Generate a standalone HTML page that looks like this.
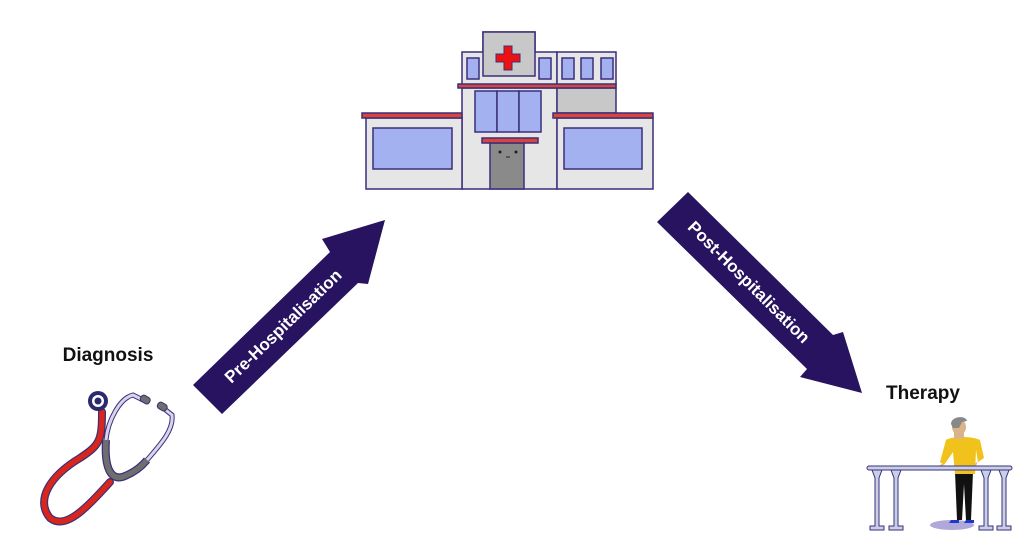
<!DOCTYPE html>
<html><head><meta charset="utf-8"><style>
html,body{margin:0;padding:0;background:#fff;}
svg{display:block}
text{font-family:"Liberation Sans",sans-serif;font-weight:bold}
</style></head><body>
<svg width="1024" height="553" viewBox="0 0 1024 553" xmlns="http://www.w3.org/2000/svg">
<g stroke="#3b2f7a" stroke-width="1.5">
<!-- hospital -->
<rect x="483" y="32" width="52" height="44" fill="#c8c8c8"/>
<rect x="462" y="52" width="95" height="33" fill="#e6e6e6"/>
<rect x="483" y="32" width="52" height="44" fill="#c8c8c8"/>
<rect x="557" y="52" width="59" height="33" fill="#e6e6e6"/>
<rect x="467" y="58" width="12" height="21" fill="#a3b1f0"/>
<rect x="539" y="58" width="12" height="21" fill="#a3b1f0"/>
<rect x="562" y="58" width="12" height="21" fill="#a3b1f0"/>
<rect x="581" y="58" width="12" height="21" fill="#a3b1f0"/>
<rect x="601" y="58" width="12" height="21" fill="#a3b1f0"/>
<path d="M504,46h8v8h8v8h-8v8h-8v-8h-8v-8h8z" fill="#ee1111" stroke-width="1"/>
<rect x="462" y="88" width="95" height="101" fill="#e6e6e6"/>
<rect x="557" y="88" width="59" height="25" fill="#c8c8c8"/>
<rect x="458" y="84" width="158" height="4" fill="#d9453a"/>
<rect x="366" y="118" width="96" height="71" fill="#e6e6e6"/>
<rect x="362" y="113" width="100" height="5" fill="#d9453a"/>
<rect x="373" y="128" width="79" height="41" fill="#a3b1f0"/>
<rect x="557" y="118" width="96" height="71" fill="#e6e6e6"/>
<rect x="553" y="113" width="100" height="5" fill="#d9453a"/>
<rect x="564" y="128" width="78" height="41" fill="#a3b1f0"/>
<rect x="475" y="91" width="22" height="41" fill="#a3b1f0"/>
<rect x="497" y="91" width="22" height="41" fill="#a3b1f0"/>
<rect x="519" y="91" width="22" height="41" fill="#a3b1f0"/>
<rect x="490" y="143" width="34" height="46" fill="#8a8a8a"/>
<rect x="482" y="138" width="56" height="5" fill="#d9453a"/>
</g>
<circle cx="500" cy="152" r="1.5" fill="#222"/><circle cx="516" cy="152" r="1.5" fill="#222"/>
<line x1="506" y1="157" x2="510" y2="157" stroke="#222" stroke-width="1"/>

<!-- arrows -->
<polygon points="193,385 222,414 358,283 368,284 385,220 322,239 330,252" fill="#27135f"/>
<text x="0" y="0" font-size="17" fill="#fff" text-anchor="middle" dominant-baseline="middle" transform="translate(284,327) rotate(-44)">Pre-Hospitalisation</text>
<polygon points="657,222 688,192 833,335 843,332 862,393 800,377 807,369" fill="#27135f"/>
<text x="0" y="0" font-size="17" fill="#fff" text-anchor="middle" dominant-baseline="middle" transform="translate(748,283) rotate(45)">Post-Hospitalisation</text>

<!-- labels -->
<text x="108" y="361" font-size="19" fill="#111" text-anchor="middle">Diagnosis</text>
<text x="923" y="399" font-size="19" fill="#111" text-anchor="middle">Therapy</text>

<!-- stethoscope -->
<path d="M102,412 C102,440 100,445 80,458 C50,476 35,500 50,518 C65,530 85,510 110,482" fill="none" stroke="#3b2f7a" stroke-width="8" stroke-linecap="round"/>
<path d="M102,412 C102,440 100,445 80,458 C50,476 35,500 50,518 C65,530 85,510 110,482" fill="none" stroke="#d9261c" stroke-width="5.5" stroke-linecap="round"/>
<path d="M106,440 C104,470 112,482 125,476 C135,472 142,466 147,460" fill="none" stroke="#3b2f7a" stroke-width="8"/>
<path d="M106,440 C104,470 112,482 125,476 C135,472 142,466 147,460" fill="none" stroke="#6e6e6e" stroke-width="5.5"/>
<path d="M106,440 C108,420 120,398 133,395 L143,400 M147,460 C160,445 174,430 172,415 L162,407" fill="none" stroke="#3b2f7a" stroke-width="5"/>
<path d="M106,440 C108,420 120,398 133,395 L143,400 M147,460 C160,445 174,430 172,415 L162,407" fill="none" stroke="#d8d4ea" stroke-width="3"/>
<rect x="140" y="396" width="10" height="7" rx="3" fill="#6e6e6e" stroke="#3b2f7a" transform="rotate(30 145 400)"/>
<rect x="157" y="403" width="10" height="7" rx="3" fill="#6e6e6e" stroke="#3b2f7a" transform="rotate(30 162 407)"/>
<circle cx="98" cy="401" r="10" fill="#2b2a6e"/><circle cx="98" cy="401" r="6" fill="#fff"/><circle cx="98" cy="401" r="3.5" fill="#2b2a6e"/>

<!-- therapy -->
<ellipse cx="952" cy="525" rx="22" ry="5" fill="#b0a8d8"/>
<g fill="#c8d0e8" stroke="#3b2f7a" stroke-width="1">
<path d="M872,470 h10 l-3,8 v48 h5 v4 h-14 v-4 h5 v-48 z"/>
<path d="M891,470 h10 l-3,8 v48 h5 v4 h-14 v-4 h5 v-48 z"/>
<path d="M981,470 h10 l-3,8 v48 h5 v4 h-14 v-4 h5 v-48 z"/>
<path d="M999,470 h10 l-3,8 v48 h5 v4 h-14 v-4 h5 v-48 z"/>
</g>
<path d="M955,472 h18 l-2,48 h-5 l-2,-36 l-2,36 h-5 z" fill="#111"/>
<path d="M951,520 h8 v3 h-10z M966,520 h8 v3 h-10z" fill="#1a3acc"/>
<path d="M946,440 C952,436 972,436 980,440 L984,458 L978,462 L976,450 L975,474 L955,474 L953,452 L944,465 L940,462 Z" fill="#f2c21c"/>
<path d="M944,463 L937,467 L942,468 Z M978,461 L976,466 L972,467 Z" fill="#d9b48a"/>
<rect x="954" y="431" width="10" height="8" fill="#d9b48a"/>
<ellipse cx="959" cy="427" rx="7" ry="8" fill="#d9b48a"/>
<path d="M951,424 C951,416 966,415 967,421 L962,422 L959,428 L953,428 Z" fill="#888"/>
<rect x="867" y="466" width="145" height="4" rx="2" fill="#c8d0e8" stroke="#3b2f7a" stroke-width="1"/>
</svg>
</body></html>
